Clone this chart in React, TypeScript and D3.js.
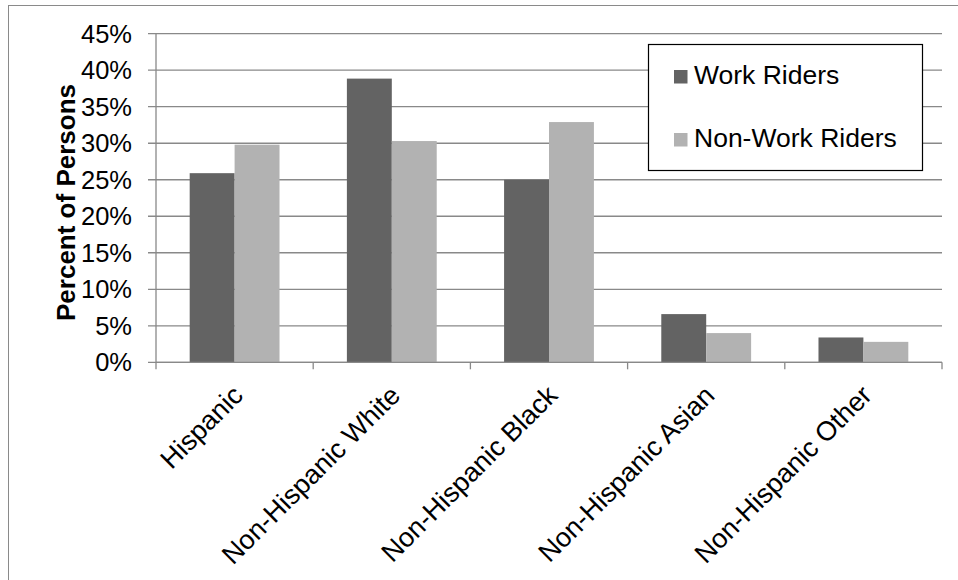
import React from "react";
import * as d3 from "d3";

const categories = ["Hispanic", "Non-Hispanic White", "Non-Hispanic Black", "Non-Hispanic Asian", "Non-Hispanic Other"];
const seriesNames = ["Work Riders", "Non-Work Riders"];
const workRiders = [25.9, 38.85, 25.0, 6.6, 3.4];
const nonWorkRiders = [29.8, 30.3, 32.9, 4.0, 2.8];
const yTicks = [0, 5, 10, 15, 20, 25, 30, 35, 40, 45];
const colors = ["#636363", "#b2b2b2"];

const W = 958, H = 580;
const left = 156, right = 942, top = 33.7, bottom = 362.3;
const FONT = "'Liberation Sans', Arial, Helvetica, sans-serif";

export default function App() {
  const x = d3.scaleBand<string>().domain(categories).range([left, right]).paddingInner(0).paddingOuter(0);
  const y = d3.scaleLinear().domain([0, 45]).range([bottom, top]);
  const inner = d3.scaleBand<string>().domain(seriesNames).range([0, x.bandwidth()]).paddingInner(0).paddingOuter(0.75);
  const series = [workRiders, nonWorkRiders];
  const gridColor = "#898989";
  const boundaries = d3.range(categories.length + 1).map((i) => left + i * x.bandwidth());

  return (
    <svg width={W} height={H} style={{ position: "fixed", left: 0, top: 0, background: "#fff" }} fontFamily={FONT}>
      <rect x={0} y={0} width={W} height={H} fill="#fff" />
      {/* outer frame */}
      <line x1={8.5} y1={5} x2={8.5} y2={H} stroke="#8a8a8a" strokeWidth={1} />
      <line x1={8} y1={5.5} x2={W} y2={5.5} stroke="#8a8a8a" strokeWidth={1} />
      {/* gridlines */}
      {yTicks.map((t) => (
        <line key={"g" + t} x1={left - 8} x2={right} y1={y(t)} y2={y(t)} stroke={gridColor} strokeWidth={1.3} />
      ))}
      {/* y axis */}
      <line x1={left} x2={left} y1={top} y2={bottom} stroke={gridColor} strokeWidth={1.3} />
      {yTicks.map((t) => (
        <text key={"yl" + t} x={132} y={y(t)} dy="0.35em" textAnchor="end" fontSize={25.5} fill="#000">
          {t + "%"}
        </text>
      ))}
      {/* bars */}
      {categories.map((c, i) => (
        <g key={c}>
          {series.map((s, j) => (
            <rect
              key={j}
              x={(x(c) as number) + (inner(seriesNames[j]) as number)}
              y={y(s[i])}
              width={inner.bandwidth()}
              height={y(0) - y(s[i])}
              fill={colors[j]}
            />
          ))}
        </g>
      ))}
      {/* x axis */}
      <line x1={left} x2={right} y1={bottom} y2={bottom} stroke={gridColor} strokeWidth={1.3} />
      {boundaries.map((b, i) => (
        <line key={"xt" + i} x1={b} x2={b} y1={bottom} y2={bottom + 7} stroke={gridColor} strokeWidth={1.3} />
      ))}
      {categories.map((c) => {
        const cx = (x(c) as number) + x.bandwidth() / 2 + 10;
        const cy = 397;
        return (
          <text key={"xl" + c} x={cx} y={cy} textAnchor="end" fontSize={27} fill="#000" transform={`rotate(-45 ${cx} ${cy})`}>
            {c}
          </text>
        );
      })}
      {/* y title */}
      <text
        transform={`translate(75 ${(83 + 322) / 2}) rotate(-90)`}
        textAnchor="middle"
        fontSize={26}
        fontWeight="bold"
        fill="#000"
      >
        Percent of Persons
      </text>
      {/* legend */}
      <rect x={648.5} y={44.5} width={274} height={126} fill="#fff" stroke="#000" strokeWidth={1.2} />
      {seriesNames.map((n, j) => (
        <g key={n}>
          <rect x={674} y={70 + j * 63} width={13.5} height={13.5} fill={colors[j]} />
          <text x={694} y={84 + j * 63} fontSize={26.5} fill="#000">
            {n}
          </text>
        </g>
      ))}
    </svg>
  );
}
